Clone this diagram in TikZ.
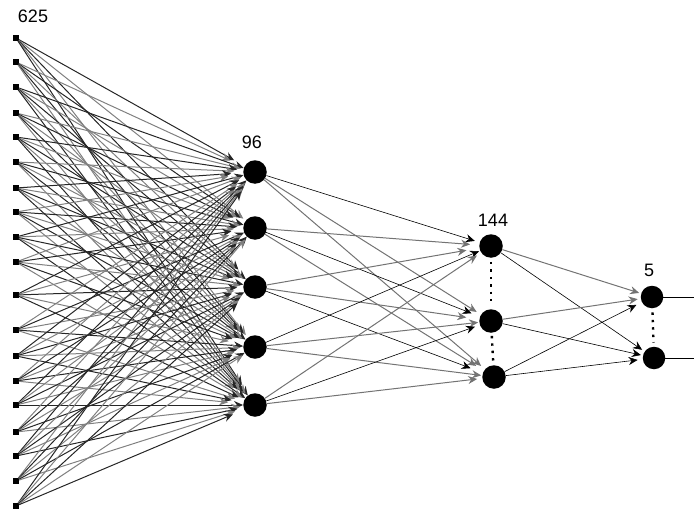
\documentclass[tikz,border=0pt]{standalone}
\usepackage{fontspec}
\setmainfont{Liberation Sans}
\usetikzlibrary{arrows.meta}
\begin{document}
\begin{tikzpicture}[x=1pt,y=-1pt,
  inp/.style={rectangle,fill=black,inner sep=0pt,minimum size=5.5pt},
  neuron/.style={circle,fill=black,inner sep=0pt,minimum size=23.5pt},
  lab/.style={font=\fontsize{18}{18}\selectfont,inner sep=0pt},
  conn/.style={-{Stealth[length=9pt,width=8pt]},line width=1pt},
  thinconn/.style={-{Stealth[length=9pt,width=8pt]},line width=0.6pt},
  dotline/.style={draw=black,line width=2.4pt,dash pattern=on 2.4pt off 5pt}]
\useasboundingbox (0,0) rectangle (694,522);
% input layer
\foreach \y [count=\i] in {38,62,87,113,137,162,188,212,237,262,295,330,356,381,405,432,456,481,506}
  \node[inp] (i\i) at (16,\y) {};
% hidden layer 96
\foreach \y [count=\j] in {172,228,287,347,405}
  \node[neuron] (h\j) at (255,\y) {};
% layer 144
\node[neuron] (m1) at (491,246) {};
\node[neuron] (m2) at (491,321) {};
\node[neuron] (m3) at (494,377) {};
% output layer 5
\node[neuron,minimum size=22.5pt] (o1) at (652,297) {};
\node[neuron,minimum size=22.5pt] (o2) at (654,358) {};
\coordinate (e1) at (694,297);
\coordinate (e2) at (694,358);
% labels
\node[lab] (t625) at (33,16.5) {625};
\node[lab] (t96) at (252,142) {96};
\node[lab] (t144) at (493,220) {144};
\node[lab] (t5) at (649,270) {5};
% input -> hidden
\foreach \i in {1,...,19}{
  \foreach \j in {1,...,5}{
    \pgfmathsetmacro\s{mod(\i*7+\j*3,6)*3}
    \pgfmathtruncatemacro\k{mod(\i+\j,2)}
    \ifnum\k=0 \def\col{black!85}\else\def\col{black!50}\fi
    \draw[conn,draw=\col,shorten >=\s pt] (i\i) -- (h\j);
  }
}
% hidden -> 144
\foreach \j in {1,...,5}{
  \foreach \k in {1,2,3}{
    \pgfmathsetmacro\s{mod(\j*5+\k*4,4)*4+1}
    \pgfmathtruncatemacro\q{mod(\j+2*\k,3)}
    \ifnum\q=0 \def\col{black}\def\wd{0.6pt}\else\def\col{black!55}\def\wd{1pt}\fi
    \draw[conn,line width=\wd,draw=\col,shorten >=\s pt] (h\j) -- (m\k);
  }
}
% 144 -> 5
\draw[conn,draw=black!55,shorten >=2pt] (m1) -- (o1);
\draw[thinconn,shorten >=3pt] (m1) -- (o2);
\draw[conn,draw=black!55,shorten >=3pt] (m2) -- (o1);
\draw[thinconn,shorten >=2pt] (m2) -- (o2);
\draw[thinconn,shorten >=6pt] (m3) -- (o1);
\draw[thinconn,shorten >=5pt] (m3) -- (o2);
% outputs
\draw[line width=0.8pt] (o1) -- (e1);
\draw[line width=0.8pt] (o2) -- (e2);
% dotted continuation
\draw[dotline,shorten <=4pt,shorten >=4pt] (m1) -- (m2);
\draw[dotline,shorten <=3pt,shorten >=3pt] (m2) -- (m3);
\draw[dotline,shorten <=4pt,shorten >=4pt] (o1) -- (o2);
\end{tikzpicture}
\end{document}
